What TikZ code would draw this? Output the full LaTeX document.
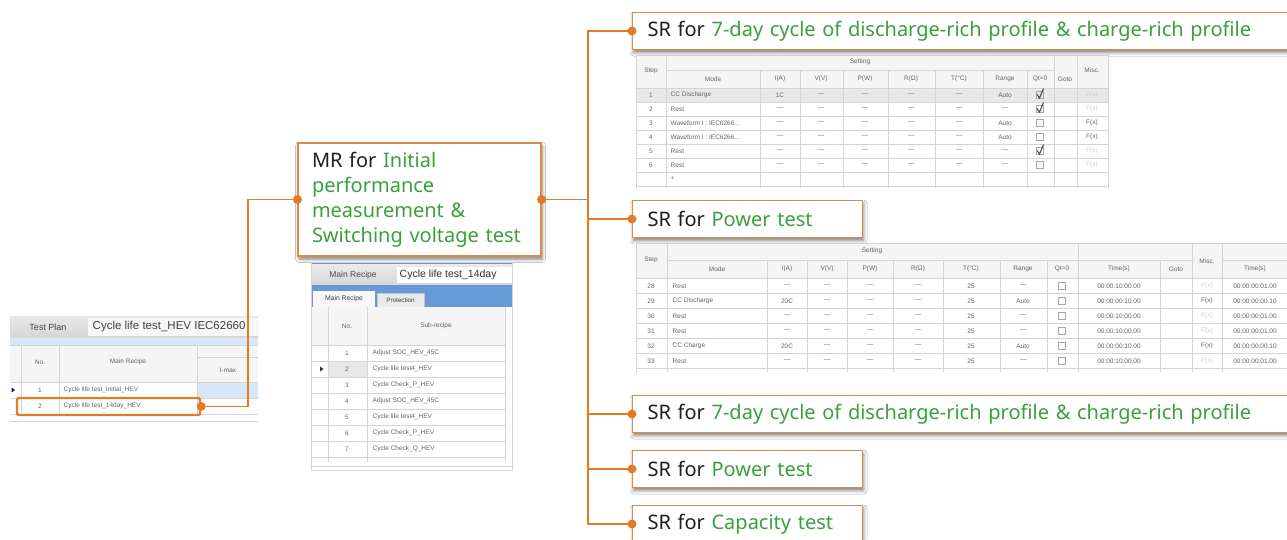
\documentclass[tikz,border=0pt]{standalone}
\usepackage{fontspec}
\setmainfont{Noto Sans}
\newfontfamily\tabfont{Liberation Sans}
\usetikzlibrary{shadows.blur,calc}

\definecolor{connc}{RGB}{228,122,40}
\definecolor{srborder}{RGB}{218,140,70}
\definecolor{srgreen}{RGB}{58,160,62}
\definecolor{srblack}{RGB}{30,30,30}
\definecolor{gridc}{RGB}{212,212,212}
\definecolor{hdrbg}{RGB}{245,245,245}
\definecolor{selbg}{RGB}{232,232,232}
\definecolor{tabtext}{RGB}{100,100,100}
\definecolor{faint}{RGB}{205,205,205}
\definecolor{barblue}{RGB}{100,155,215}
\definecolor{lightblue}{RGB}{216,231,246}

\newcounter{tcell}
% small centred / left aligned text of the screenshot tables
\newcommand\tabc[4][]{\stepcounter{tcell}\node[tabtxt,#1] (tc\arabic{tcell}) at (#2,-#3) {#4};}
\newcommand\tabl[3]{\tabc[anchor=west]{#1}{#2}{#3}}
\newcommand\dsh[2]{\tabc{#1}{#2}{—}}
\newcommand\cbox[2]{\draw[boxln] (#1,-#2) ++(-3.5,-3.5) rectangle ++(7,7);}
\newcommand\cchk[2]{\cbox{#1}{#2}\draw[chkln] (#1,-#2) ++(-3,0.5) -- ++(2.5,-3.5) -- ++(4,9.5);}

\tikzset{
  tabtxt/.style={font=\tabfont\fontsize{6.5}{7}\selectfont, text=tabtext, inner sep=0.5pt},
  gridl/.style={draw=gridc, line width=0.6pt},
  boxln/.style={draw=gray!70, line width=0.5pt},
  chkln/.style={draw=black!75, line width=1pt},
  connl/.style={draw=connc, line width=1.6pt},
  dotn/.style={circle, fill=connc, inner sep=0pt, minimum size=9pt},
  labelbox/.style={draw=srborder, line width=1.2pt, fill=white, text=srblack,
    align=left, blur shadow={shadow xshift=1pt, shadow yshift=-3pt,
    shadow blur radius=3.5pt, shadow opacity=50}},
  srbox/.style={labelbox, anchor=west, inner xsep=15pt, inner ysep=0pt,
    minimum height=37pt, font=\fontsize{20}{24}\selectfont},
  mrbox/.style={labelbox, minimum width=243pt, minimum height=113pt,
    text width=215pt, inner xsep=14pt, font=\fontsize{20}{25}\selectfont},
  hlbox/.style={draw=connc, line width=2.4pt, rounded corners=2pt, inner sep=0pt}
}

\begin{document}
\begin{tikzpicture}[x=1pt,y=1pt]
\useasboundingbox[fill=white] (0,0) rectangle (1287,-539);

% ---------- recipe labels ----------
\node[mrbox] (mr) at (419.5,-199.5)
  {MR for {\color{srgreen}Initial}\\{\color{srgreen}performance}\\{\color{srgreen}measurement \&}\\{\color{srgreen}Switching voltage test}};
\node[srbox, text width=650pt] (sr1) at (632,-31)
  {SR for {\color{srgreen}7-day cycle of discharge-rich profile \& charge-rich profile}};
\node[srbox, text width=200pt] (sr2) at (632,-219)
  {SR for {\color{srgreen}Power test}};
\node[srbox, text width=650pt] (sr3) at (632,-414)
  {SR for {\color{srgreen}7-day cycle of discharge-rich profile \& charge-rich profile}};
\node[srbox, text width=200pt] (sr4) at (632,-469)
  {SR for {\color{srgreen}Power test}};
\node[srbox, text width=200pt] (sr5) at (632,-524)
  {SR for {\color{srgreen}Capacity test}};

% ---------- test plan window ----------
\begin{scope}
  \clip (10,-314) rectangle (258,-425);
  \shade[top color=gray!18, bottom color=gray!32] (10,-316) rectangle (258,-338);
  \fill[gray!6] (88,-318) rectangle (258,-336);
  \node[tabtxt, font=\tabfont\fontsize{9}{10}\selectfont, text=gray!55!black] (tpt) at (48,-327) {Test Plan};
  \node[tabtxt, anchor=west, font=\tabfont\fontsize{11.5}{12}\selectfont, text=black!75] (tpn) at (92,-327) {Cycle life test\_HEV IEC62660};
\end{scope}
\fill[lightblue] (10,-338) rectangle (258,-345);
\fill[hdrbg] (10,-345) rectangle (258,-382);
\fill[lightblue] (197,-382) rectangle (258,-398);
\foreach \y in {345,382,398,414} \draw[gridl] (10,-\y) -- (258,-\y);
\draw[gridl] (197,-357) -- (258,-357);
\foreach \x in {21,59,197} \draw[gridl] (\x,-345) -- (\x,-414);
\draw[gridl] (10,-421) -- (258,-421);
\fill[blue!60!black] (11.5,-387.5) -- (15,-390) -- (11.5,-392.5) -- cycle;
\tabc{40}{362}{No.}
\tabc{128}{362}{Main Recipe}
\tabc{228}{370}{I-max}
\tabc{40}{390}{1}
\tabl{63}{390}{Cycle life test\_Initial\_HEV}
\tabc{40}{406}{2}
\tabl{63}{406}{Cycle life test\_14day\_HEV}
\node[hlbox, minimum width=183pt, minimum height=17pt] (hl) at (108.5,-406.5) {};

% ---------- main recipe window ----------
\fill[white] (311,-262) rectangle (512,-470);
\begin{scope}
  \clip (311,-262) rectangle (512,-286);
  \shade[top color=gray!15, bottom color=gray!32] (311,-263) rectangle (512,-285);
  \fill[white] (397,-267) rectangle (512,-283);
  \node[tabtxt, font=\tabfont\fontsize{8.5}{9}\selectfont, text=gray!60!black] (mrt) at (353,-275) {Main Recipe};
  \node[tabtxt, anchor=west, font=\tabfont\fontsize{10.5}{11}\selectfont, text=black!80] (mrn) at (399,-275) {Cycle life test\_14day};
\end{scope}
\draw[barblue, line width=1.5pt] (311,-263) -- (512,-263);
\fill[barblue] (311,-285) rectangle (512,-307);
\fill[gray!6] (313,-291) rectangle (375,-307);
\fill[gray!16] (377,-293) rectangle (424,-307);
\draw[gray!45, line width=0.5pt] (377,-307) -- (377,-293) -- (424,-293) -- (424,-307);
\node[tabtxt, font=\tabfont\fontsize{6.8}{7}\selectfont, text=black!75] (tab1) at (344,-299) {Main Recipe};
\node[tabtxt, font=\tabfont\fontsize{6.3}{7}\selectfont, text=black!75] (tab2) at (400.5,-300) {Protection};
\fill[hdrbg] (311,-307) rectangle (505,-345);
\fill[selbg] (328,-361) rectangle (367,-377);
\foreach \y in {345,361,377,393,409,425,441,457} \draw[gridl] (311,-\y) -- (505,-\y);
\foreach \x in {328,367,505} \draw[gridl] (\x,-307) -- (\x,-462);
\draw[gridl] (311,-262) rectangle (512,-470);
\draw[gridl] (311,-466) -- (512,-466);
\fill[black!80] (320,-366.5) -- (323.5,-369) -- (320,-371.5) -- cycle;
\tabc{347}{326}{No.}
\tabc{436}{326}{Sub-recipe}
\foreach \n/\s [count=\k] in {1/Adjust SOC\_HEV\_45C, 2/Cycle life test4\_HEV,
    3/Cycle Check\_P\_HEV, 4/Adjust SOC\_HEV\_45C, 5/Cycle life test4\_HEV,
    6/Cycle Check\_P\_HEV, 7/Cycle Check\_Q\_HEV} {
  \pgfmathtruncatemacro\yy{337+16*\k}
  \tabc{347}{\yy}{\n}
  \tabl{372}{\yy}{\s}
}

% ---------- step table of the 7-day cycle ----------
\fill[white] (636,-55) rectangle (1108,-188);
\fill[hdrbg] (636,-55) rectangle (1108,-88);
\fill[selbg] (636,-88) rectangle (1108,-102);
\draw[gridl] (666,-70) -- (1054,-70);
\foreach \y in {55,88,102,116,130,144,158,172,186} \draw[gridl] (636,-\y) -- (1108,-\y);
\foreach \x in {636,666,1054,1077,1108} \draw[gridl] (\x,-55) -- (\x,-188);
\foreach \x in {760,800,843,888,935,983,1027} \draw[gridl] (\x,-70) -- (\x,-188);
\tabc{651}{71}{Step}
\tabc{860}{62}{Setting}
\tabc{713}{79}{Mode}
\tabc{780}{79}{I(A)}
\tabc{821}{79}{V(V)}
\tabc{865}{79}{P(W)}
\tabc{911}{79}{R(Ω)}
\tabc{959}{79}{T(°C)}
\tabc{1005}{79}{Range}
\tabc{1040}{79}{Qt=0}
\tabc{1065}{79}{Goto}
\tabc{1092}{70}{Misc.}
% rows: step, mode, I, range, marker, misc
\tabc{651}{95}{1}\tabl{670}{95}{CC Discharge}\tabc{780}{95}{1C}\tabc{1005}{95}{Auto}
\tabc{651}{109}{2}\tabl{670}{109}{Rest}\dsh{780}{109}\dsh{1005}{109}
\tabc{651}{123}{3}\tabl{670}{123}{Waveform I : IEC6266...}\dsh{780}{123}\tabc{1005}{123}{Auto}
\tabc{651}{137}{4}\tabl{670}{137}{Waveform I : IEC6266...}\dsh{780}{137}\tabc{1005}{137}{Auto}
\tabc{651}{151}{5}\tabl{670}{151}{Rest}\dsh{780}{151}\dsh{1005}{151}
\tabc{651}{165}{6}\tabl{670}{165}{Rest}\dsh{780}{165}\dsh{1005}{165}
\tabl{670}{179}{+}
\foreach \y in {95,109,123,137,151,165} {
  \foreach \x in {821,865,911,959} {\dsh{\x}{\y}}
}
\cchk{1040}{95}\cchk{1040}{109}\cbox{1040}{123}\cbox{1040}{137}\cchk{1040}{151}\cbox{1040}{165}
\tabc[text=faint]{1092}{95}{F(x)}
\tabc[text=faint]{1092}{109}{F(x)}
\tabc{1092}{123}{F(x)}
\tabc{1092}{137}{F(x)}
\tabc[text=faint]{1092}{151}{F(x)}
\tabc[text=faint]{1092}{165}{F(x)}

% ---------- step table of the power test ----------
\fill[white] (636,-243) rectangle (1300,-372);
\fill[hdrbg] (636,-243) rectangle (1300,-278);
\draw[gridl] (667,-260) -- (1192,-260);
\draw[gridl] (1222,-260) -- (1300,-260);
\foreach \y in {243,278,293,308,323,338,353,368} \draw[gridl] (636,-\y) -- (1300,-\y);
\foreach \x in {636,667,1078,1192,1222} \draw[gridl] (\x,-243) -- (\x,-372);
\foreach \x in {767,807,847,893,943,1000,1047,1160} \draw[gridl] (\x,-260) -- (\x,-372);
\tabc{651}{260}{Step}
\tabc{872}{251}{Setting}
\tabc{717}{269}{Mode}
\tabc{787}{269}{I(A)}
\tabc{827}{269}{V(V)}
\tabc{870}{269}{P(W)}
\tabc{918}{269}{R(Ω)}
\tabc{971}{269}{T(°C)}
\tabc{1023}{269}{Range}
\tabc{1062}{269}{Qt=0}
\tabc{1119}{269}{Time(s)}
\tabc{1176}{269}{Goto}
\tabc{1207}{261}{Misc.}
\tabc{1255}{269}{Time(s)}
\foreach \st/\md/\cur/\rg/\tm/\fx/\tmb [count=\k] in {
   28/Rest/—/—/00:00:10:00.00/faint/00:00:00:01.00,
   29/CC Discharge/20C/Auto/00:00:00:10.00/tabtext/00:00:00:00.10,
   30/Rest/—/—/00:00:10:00.00/faint/00:00:00:01.00,
   31/Rest/—/—/00:00:10:00.00/faint/00:00:00:01.00,
   32/CC Charge/20C/Auto/00:00:00:10.00/tabtext/00:00:00:00.10,
   33/Rest/—/—/00:00:10:00.00/faint/00:00:00:01.00} {
  \pgfmathtruncatemacro\yy{271+15*\k}
  \tabc{651}{\yy}{\st}
  \tabl{672}{\yy}{\md}
  \tabc{787}{\yy}{\cur}
  \foreach \x in {827,870,918} {\dsh{\x}{\yy}}
  \tabc{971}{\yy}{25}
  \tabc{1023}{\yy}{\rg}
  \cbox{1062}{\yy}
  \tabc{1119}{\yy}{\tm}
  \tabc[text=\fx]{1207}{\yy}{F(x)}
  \tabc{1255}{\yy}{\tmb}
}

% ---------- connectors ----------
\coordinate (bend) at (248,-406.5);
\coordinate (jn) at (588,-199.5);
\draw[connl] (hl.east) -- (bend) |- (mr.west);
\draw[connl] (mr.east) -- (jn);
\draw[connl] (sr1.west) -| (jn) |- (sr5.west);
\draw[connl] (jn |- sr2.west) -- (sr2.west);
\draw[connl] (jn |- sr3.west) -- (sr3.west);
\draw[connl] (jn |- sr4.west) -- (sr4.west);
\node[dotn] (dhl) at (hl.east) {};
\node[dotn] (dmrw) at (mr.west) {};
\node[dotn] (dmre) at (mr.east) {};
\node[dotn] (dsr1) at (sr1.west) {};
\node[dotn] (dsr2) at (sr2.west) {};
\node[dotn] (dsr3) at (sr3.west) {};
\node[dotn] (dsr4) at (sr4.west) {};
\node[dotn] (dsr5) at (sr5.west) {};
\end{tikzpicture}
\end{document}
